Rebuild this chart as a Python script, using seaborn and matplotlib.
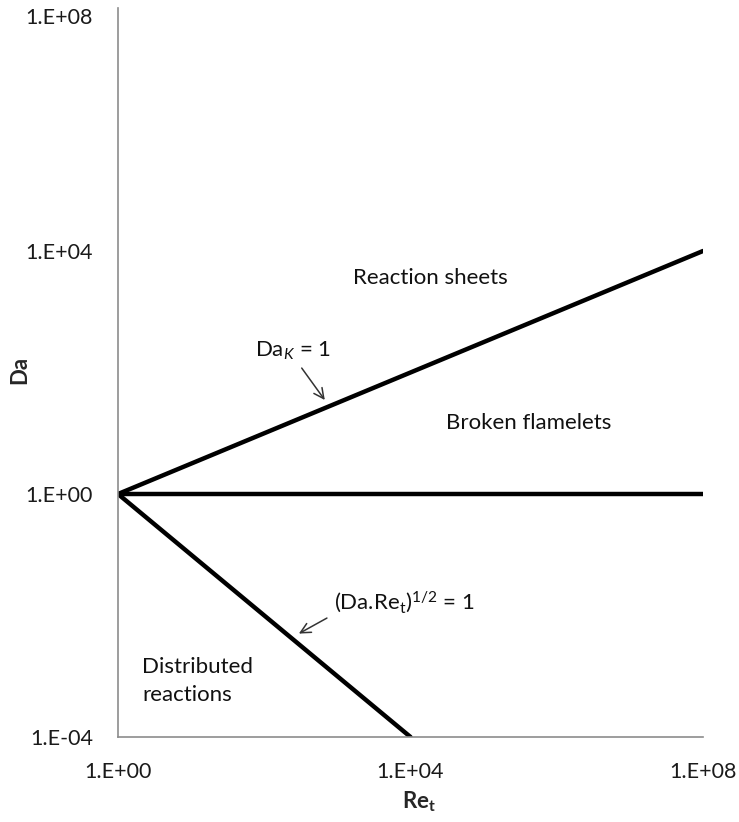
import matplotlib
matplotlib.use("Agg")
import matplotlib.pyplot as plt
import seaborn as sns
import pandas as pd

# Regime boundaries on the Borghi-type diagram
re_dak = [1.0, 1e8]
da_dak = [1.0, 1e4]
re_da1 = [1.0, 1e8]
da_da1 = [1.0, 1.0]
re_ka = [1.0, 1e4]
da_ka = [1.0, 1e-4]

x_ticks = [1e0, 1e4, 1e8]
x_tick_labels = ["1.E+00", "1.E+04", "1.E+08"]
y_ticks = [1e-4, 1e0, 1e4, 1e8]
y_tick_labels = ["1.E-04", "1.E+00", "1.E+04", "1.E+08"]

sns.set_style("white")
plt.rcParams["font.family"] = ["Lato", "DejaVu Sans"]
plt.rcParams["mathtext.fontset"] = "custom"
plt.rcParams["mathtext.rm"] = "Lato"
plt.rcParams["mathtext.it"] = "Lato:italic"
plt.rcParams["mathtext.bf"] = "Lato:bold"

frames = []
for name, xs, ys in [("dak", re_dak, da_dak), ("da1", re_da1, da_da1), ("ka", re_ka, da_ka)]:
    frames.append(pd.DataFrame({"Re": xs, "Da": ys, "line": name}))
df = pd.concat(frames, ignore_index=True)

fig = plt.figure(figsize=(7.39, 8.22), dpi=100)
ax = fig.add_axes([0.1597, 0.1034, 0.7916, 0.8869])

sns.lineplot(data=df, x="Re", y="Da", units="line", estimator=None,
             color="black", linewidth=3.2, ax=ax, legend=False)

ax.set_xscale("log")
ax.set_yscale("log")
ax.set_xlim(1, 1e8)
ax.set_ylim(1e-4, 1e8)
ax.set_xticks(x_ticks)
ax.set_xticklabels(x_tick_labels)
ax.set_yticks(y_ticks)
ax.set_yticklabels(y_tick_labels)
ax.minorticks_off()
ax.tick_params(axis="both", length=0, labelsize=15.5, colors="#1a1a1a")
ax.tick_params(axis="x", pad=18)
ax.tick_params(axis="y", pad=18)
# keep the topmost label inside the figure
ax.get_yticklabels()[-1].set_verticalalignment("top")

for side in ["top", "right"]:
    ax.spines[side].set_visible(False)
for side in ["left", "bottom"]:
    ax.spines[side].set_color("#8c8c8c")
    ax.spines[side].set_linewidth(1.2)

ax.set_xlabel("Re$_\\mathbf{t}$", fontsize=16, fontweight="bold")
ax.set_ylabel("Da", fontsize=16, fontweight="bold")
ax.xaxis.set_label_coords(0.514, -0.072)
ax.yaxis.set_label_coords(-0.150, 0.503)

tc = "#111111"
fs = 16
ax.text(10**4.27, 10**3.56, "Reaction sheets", fontsize=fs, ha="center", va="center", color=tc)
ax.text(10**5.62, 10**1.17, "Broken flamelets", fontsize=fs, ha="center", va="center", color=tc)
ax.text(10**0.33, 10**-3.08, "Distributed\nreactions", fontsize=fs, ha="left", va="center",
        color=tc, linespacing=1.5)

arrow = dict(arrowstyle="->", color="#333333", lw=1.1, mutation_scale=18)
ax.text(10**1.88, 10**2.35, "Da$_{K}$ = 1", fontsize=fs, ha="left", va="center", color=tc)
ax.annotate("", xy=(10**2.85, 10**1.51), xytext=(10**2.49, 10**2.11), arrowprops=arrow)
ax.text(10**2.95, 10**-1.78, "(Da.Re$_\\mathrm{t}$)$^{\\mathrm{1/2}}$ = 1", fontsize=fs,
        ha="left", va="center", color=tc)
ax.annotate("", xy=(10**2.44, 10**-2.32), xytext=(10**2.89, 10**-2.02), arrowprops=arrow)

fig.savefig("out.png", dpi=100)
